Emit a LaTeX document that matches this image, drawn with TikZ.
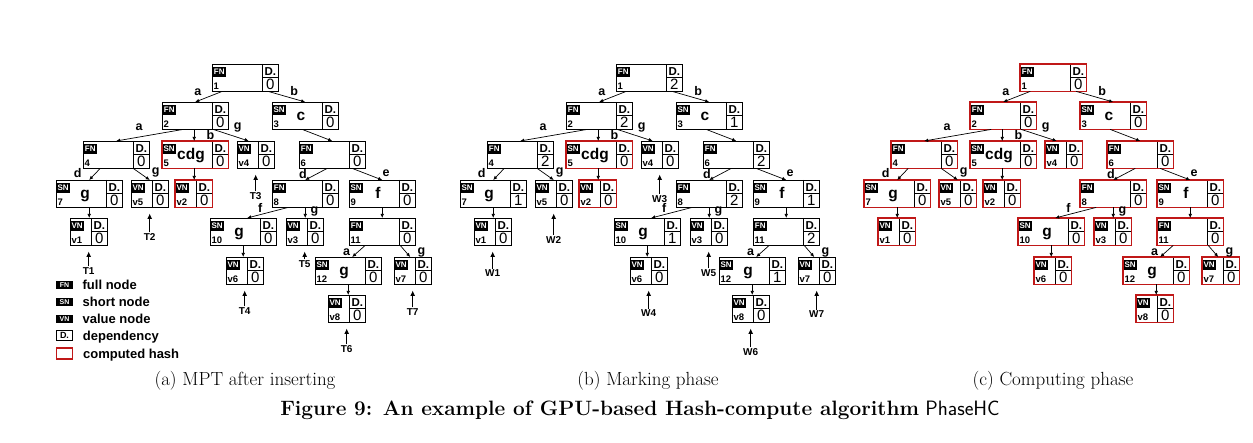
\documentclass[tikz,border=0pt]{standalone}
\usepackage{fontspec}
\newfontfamily\arialfont{Liberation Sans}
\usetikzlibrary{positioning,calc,arrows.meta}
\definecolor{hashred}{RGB}{192,24,24}

\tikzset{
  plain box/.style={draw=black, line width=0.9pt},
  hash box/.style={draw=hashred, line width=1.5pt},
  kind tag/.style={fill=black, text=white, inner sep=0pt, minimum width=13pt,
    minimum height=10pt, anchor=north west,
    font=\arialfont\bfseries\fontsize{8}{8}\selectfont},
  num text/.style={inner sep=0pt, anchor=base west,
    font=\arialfont\bfseries\fontsize{9.5}{10}\selectfont},
  key text/.style={inner sep=0pt, anchor=base,
    font=\arialfont\bfseries\fontsize{15.5}{16}\selectfont},
  dep text/.style={inner sep=0pt, anchor=base,
    font=\arialfont\bfseries\fontsize{11.5}{12}\selectfont},
  dep count/.style={inner sep=0pt, anchor=base,
    font=\arialfont\fontsize{15}{15}\selectfont},
  tree link/.style={line width=0.7pt, -{Latex[length=4pt,width=3.6pt]}},
  edge label/.style={inner sep=0pt, font=\arialfont\bfseries\fontsize{12.5}{13}\selectfont},
  leaf label/.style={inner sep=0pt, font=\arialfont\bfseries\fontsize{10}{10}\selectfont},
  leaf arrow/.style={line width=1.2pt, -{Latex[length=5.5pt,width=5pt]},
    shorten >=6pt, shorten <=1pt},
  legend icon/.style={fill=black, text=white, inner sep=0pt, minimum width=16.5pt,
    minimum height=8pt, font=\arialfont\bfseries\fontsize{7}{7}\selectfont},
  legend text/.style={inner sep=0pt, anchor=west, text height=9.4pt, text depth=0pt,
    font=\arialfont\bfseries\fontsize{13}{13}\selectfont},
  sub caption/.style={inner sep=0pt, font=\fontsize{19}{22}\selectfont},
  fig caption/.style={inner sep=0pt, font=\fontsize{20.8}{24}\selectfont}
}

% D values of the twelve inner nodes (FN/SN), stored as \dv1 ... \dv12
\newcommand\setdvalues[1]{\foreach \val [count=\i] in {#1}{\expandafter\xdef\csname dv\i\endcsname{\val}}}
\newcommand\dvalue[1]{\csname dv#1\endcsname}

% #1 box style, #2 name, #3 top left corner, #4 width, #5 kind, #6 number, #7 key, #8 D value
\newcommand\mptnode[8]{%
  \node[minimum width=#4, minimum height=27pt, inner sep=0pt, anchor=north west] (#2) at (#3) {};
  \draw[line width=0.8pt] ($(#2.north east)+(-16,0)$) -- ($(#2.south east)+(-16,0)$)
    ($(#2.east)+(-16,0)$) -- (#2.east);
  \node[kind tag] at ($(#2.north west)+(0.5,2.5)$) {#5};
  \node[num text] at ($(#2.south west)+(1.5,-2.3)$) {#6};
  \node[key text] at ($(#2.north west)+(29,19)$) {#7};
  \node[dep text] at ($(#2.north east)+(-8,11.5)$) {D.};
  \node[dep count] at ($(#2.south east)+(-8,-1.5)$) {#8};
  \draw[#1] (#2.north west) rectangle (#2.south east);
}

% parent, shift on its bottom, child, shift on its top, label
\newcommand\treelink[5]{\draw[tree link] ($(#1.south)+(#2,0)$) -- ($(#3.north)+(#4,0)$) #5;}

% the whole trie; #1 style of the ordinary boxes
\newcommand\mpttree[1]{%
  % 1. nodes, level by level
  \mptnode{#1}{n1}{212,64}{66pt}{FN}{1}{}{\dvalue{1}}
  \mptnode{#1}{n2}{162,102}{66pt}{FN}{2}{}{\dvalue{2}}
  \mptnode{#1}{n3}{272,102}{66pt}{SN}{3}{c}{\dvalue{3}}
  \mptnode{#1}{n4}{83,141}{66pt}{FN}{4}{}{\dvalue{4}}
  \mptnode{hash box}{n5}{162,141}{66pt}{SN}{5}{cdg}{\dvalue{5}}
  \mptnode{#1}{v4}{237,141}{37pt}{VN}{v4}{}{0}
  \mptnode{#1}{n6}{299,141}{66pt}{FN}{6}{}{\dvalue{6}}
  \mptnode{#1}{n7}{56,180}{66pt}{SN}{7}{g}{\dvalue{7}}
  \mptnode{#1}{v5}{131,180}{37pt}{VN}{v5}{}{0}
  \mptnode{hash box}{v2}{175,180}{37pt}{VN}{v2}{}{0}
  \mptnode{#1}{n8}{272,180}{66pt}{FN}{8}{}{\dvalue{8}}
  \mptnode{#1}{n9}{349,180}{66pt}{SN}{9}{f}{\dvalue{9}}
  \mptnode{#1}{v1}{70,218}{37pt}{VN}{v1}{}{0}
  \mptnode{#1}{n10}{210,218}{66pt}{SN}{10}{g}{\dvalue{10}}
  \mptnode{#1}{v3}{286,218}{37pt}{VN}{v3}{}{0}
  \mptnode{#1}{n11}{349,218}{66pt}{FN}{11}{}{\dvalue{11}}
  \mptnode{#1}{v6}{226,257}{37pt}{VN}{v6}{}{0}
  \mptnode{#1}{n12}{315,257}{66pt}{SN}{12}{g}{\dvalue{12}}
  \mptnode{#1}{v7}{394,257}{37pt}{VN}{v7}{}{0}
  \mptnode{#1}{v8}{328,295}{37pt}{VN}{v8}{}{0}
  % 2. edges with their nibbles
  \treelink{n1}{-23}{n2}{0}{node[edge label, pos=.9, above=5pt]{a}}
  \treelink{n1}{23}{n3}{0}{node[edge label, pos=.7, above=3pt]{b}}
  \treelink{n2}{-12}{n4}{0}{node[edge label, pos=.66, above=6pt]{a}}
  \treelink{n2}{-1}{n5}{-1}{node[edge label, pos=.5, right=12pt]{b}}
  \treelink{n2}{18}{v4}{-7}{node[edge label, pos=.69, above=5pt]{g}}
  \treelink{n3}{-3}{n6}{0}{}
  \treelink{n4}{-16}{n7}{0}{node[edge label, pos=.4, left=14pt]{d}}
  \treelink{n4}{17}{v5}{0}{node[edge label, pos=.32, right=13pt]{g}}
  \treelink{n5}{-1}{v2}{0.5}{}
  \treelink{n6}{-5}{n8}{0}{node[edge label, pos=.5, left=9pt]{d}}
  \treelink{n6}{20}{n9}{0}{node[edge label, pos=.9, anchor=south west, xshift=3pt, yshift=1.5pt]{e}}
  \treelink{n7}{0}{v1}{0.5}{}
  \treelink{n8}{-17}{n10}{4}{node[edge label, pos=.68, above=2pt]{f}}
  \treelink{n8}{0}{v3}{0.5}{node[edge label, pos=.4, right=5pt]{g}}
  \treelink{n9}{0}{n11}{0}{}
  \treelink{n10}{0}{v6}{-1.5}{}
  \treelink{n11}{-17}{n12}{4}{node[edge label, pos=.6, left=7pt]{a}}
  \treelink{n11}{18}{v7}{-2.5}{node[edge label, pos=.6, right=11pt]{g}}
  \treelink{n12}{0}{v8}{1.5}{}
}

% arrows under the leaves; #1 letter, #2 extra drop, #3 drop of label 5
\newcommand\mptleaves[3]{%
  \foreach \vn/\k/\dist in {v1/1/22, v5/2/26, v4/3/24, v6/4/23, v3/5/#3-#2, v8/6/23, v7/7/24}{%
    \node[leaf label, anchor=north] (l\k) at ($(\vn.south)+(0,\dist+#2)$) {#1\k};
    \draw[leaf arrow] (l\k) -- (\vn);
  }
}

\begin{document}
\begin{tikzpicture}[x=1pt, y=-1pt]
  \useasboundingbox (0,0) rectangle (1253,443);

  % (a) MPT after inserting
  \begin{scope}[name prefix=a-]
    \setdvalues{0,0,0,0,0,0,0,0,0,0,0,0}
    \mpttree{plain box}
    \mptleaves{T}{0}{15}
  \end{scope}

  % (b) marking phase
  \begin{scope}[xshift=404pt, name prefix=b-]
    \setdvalues{2,2,1,2,0,2,1,2,1,1,2,1}
    \mpttree{plain box}
    \mptleaves{W}{2.5}{24}
  \end{scope}

  % (c) computing phase
  \begin{scope}[xshift=808pt, name prefix=c-]
    \setdvalues{0,0,0,0,0,0,0,0,0,0,0,0}
    \mpttree{hash box}
  \end{scope}

  % legend
  \node[legend icon] (kfn) at (64.5,284.7) {FN};
  \node[legend icon, below=8.6pt of kfn] (ksn) {SN};
  \node[legend icon, below=8.6pt of ksn] (kvn) {VN};
  \node[legend icon, below=7.3pt of kvn, fill=none, draw=black, line width=0.9pt,
    text=black, minimum height=10pt, font=\arialfont\bfseries\fontsize{9}{9}\selectfont] (kdep) {D.};
  \node[legend icon, below=6.4pt of kdep, fill=none, draw=hashred, line width=1.3pt,
    minimum height=11pt] (khash) {};
  \node[legend text, right=9.5pt of kfn] {full node};
  \node[legend text, right=9.5pt of ksn] {short node};
  \node[legend text, right=9.5pt of kvn] {value node};
  \node[legend text, right=9.5pt of kdep] {dependency};
  \node[legend text, right=9.5pt of khash] {computed hash};

  % captions
  \node[sub caption] (capa) at (245,381) {(a) MPT after inserting};
  \node[sub caption] (capb) at (648,381) {(b) Marking phase};
  \node[sub caption] (capc) at (1053,381) {(c) Computing phase};
  \node[fig caption] (figcap) at (640,410)
    {\textbf{Figure 9: An example of GPU-based Hash-compute algorithm} {\sffamily PhaseHC}};
\end{tikzpicture}
\end{document}
